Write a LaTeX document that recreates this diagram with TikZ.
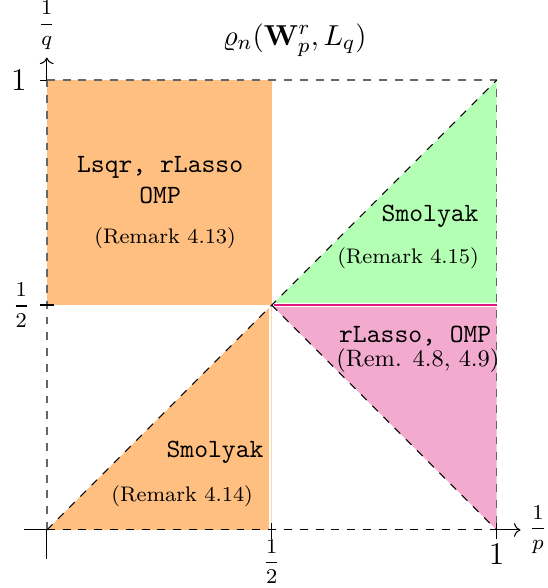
\documentclass[tikz,border=0pt]{standalone}
\usetikzlibrary{arrows.meta}
\definecolor{regorange}{RGB}{255,191,128}
\definecolor{reggreen}{RGB}{179,255,179}
\definecolor{regpink}{RGB}{242,170,206}
\definecolor{regline}{RGB}{226,20,130}
\begin{document}
\begin{tikzpicture}[x=6cm,y=6cm,
  boxline/.style={dashed,black!60,line width=0.6pt},
  diagline/.style={dashed,black,line width=0.4pt},
  tickline/.style={black,line width=0.4pt},
  algo/.style={font=\ttfamily,align=center,inner sep=1pt},
  remark/.style={font=\footnotesize,inner sep=1pt},
  axlabel/.style={inner sep=1pt},
  fraclabel/.style={inner sep=1pt,font=\footnotesize}]
\useasboundingbox (-0.104,-0.129) rectangle (1.113,1.178);
% coordinates
\coordinate (O) at (0,0);
\coordinate (X1) at (1,0);
\coordinate (Xh) at (0.5,0);
\coordinate (Y1) at (0,1);
\coordinate (Yh) at (0,0.5);
\coordinate (C) at (0.5,0.5);
\coordinate (TR) at (1,1);
\coordinate (RH) at (1,0.5);
\coordinate (TH) at (0.5,1);
\coordinate (XL) at (-0.05,0);
\coordinate (XR) at (1.053,0);
\coordinate (YB) at (0,-0.065);
\coordinate (YT) at (0,1.05);
% regions
\fill[regorange] (Yh) rectangle (TH);
\fill[regorange] (O) -- (Xh) -- (C) -- cycle;
\fill[reggreen] (C) -- (TR) -- (RH) -- cycle;
\fill[regpink] (C) -- (RH) -- (X1) -- cycle;
\draw[white,line width=1.6pt] (C) -- (RH);
\draw[regline,line width=0.55pt] ([xshift=1pt]C) -- (RH);
\draw[white,line width=0.5pt] ([xshift=-0.6pt]Xh) -- ([xshift=-0.6pt]C);
% box
\draw[boxline] (Y1) -- (TR) -- (X1);
\draw[boxline] (O) -- (Y1);
\draw[diagline] (O) -- (X1);
\draw[diagline] (O) -- (TR);
\draw[diagline] (C) -- (X1);
% axes
\draw[tickline] (XL) -- (O);
\draw[tickline,->] (X1) -- (XR);
\draw[tickline] (YB) -- (O);
\draw[tickline,->] (Y1) -- (YT);
% ticks
\draw[tickline] ([xshift=-0.6ex]Y1) -- (Y1);
\draw[tickline] ([xshift=-0.6ex]Yh) -- ([xshift=0.6ex]Yh);
\draw[tickline] ([yshift=-0.8ex]Xh) -- ([yshift=0.6ex]Xh);
\draw[tickline] ([yshift=-0.8ex]X1) -- ([yshift=0.6ex]X1);
% axis labels
\node[axlabel,font=\large] (l1y) at (-0.062,1) {$1$};
\node[fraclabel] (lhy) at (-0.057,0.5) {$\displaystyle\frac{1}{2}$};
\node[fraclabel] (lhx) at (0.5,-0.07) {$\displaystyle\frac{1}{2}$};
\node[axlabel,font=\large] (l1x) at (1,-0.055) {$1$};
\node[fraclabel] (lq) at (0,1.122) {$\displaystyle\frac{1}{q}$};
\node[fraclabel] (lp) at (1.092,0) {$\displaystyle\frac{1}{p}$};
\node[axlabel,font=\fontsize{11}{13}\selectfont] (title) at (0.551,1.089) {$\varrho_n(\mathbf{W}^r_p,L_q)$};
% region texts
\node[algo] (a1) at (0.252,0.778) {Lsqr, rLasso\\OMP};
\node[remark] (r1) at (0.263,0.649) {(Remark 4.13)};
\node[algo] (a2) at (0.852,0.698) {Smolyak};
\node[remark] (r2) at (0.803,0.604) {(Remark 4.15)};
\node[algo] (a3) at (0.819,0.431) {rLasso, OMP};
\node[remark,font=\small] (r3) at (0.825,0.376) {(Rem. 4.8, 4.9)};
\node[algo] (a4) at (0.374,0.173) {Smolyak};
\node[remark] (r4) at (0.301,0.076) {(Remark 4.14)};
\end{tikzpicture}
\end{document}
